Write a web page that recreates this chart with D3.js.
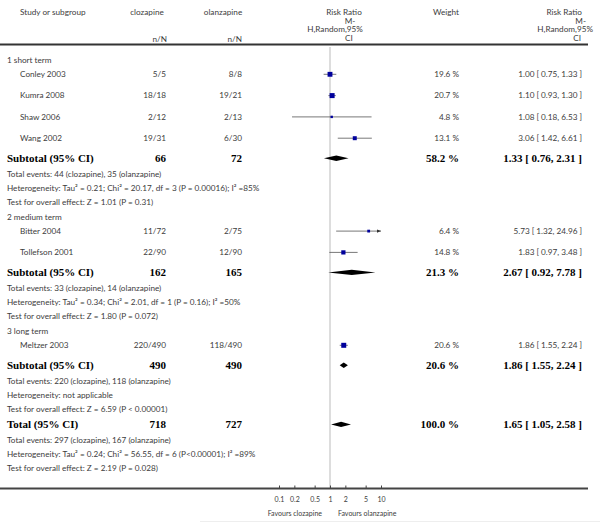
<!DOCTYPE html>
<html><head><meta charset="utf-8">
<script src="https://cdn.jsdelivr.net/npm/d3@7"></script>
<style>body{margin:0;background:#fff}svg{display:block}</style>
</head><body><div id="c"></div>
<script>
// ---- data ----
const groups = ["1 short term", "2 medium term", "3 long term"];
const studies = ["Conley 2003","Kumra 2008","Shaw 2006","Wang 2002","Bitter 2004","Tollefson 2001","Meltzer 2003"];
const studyGroup = [0,0,0,0,1,1,2];
const clozEvents = [5,18,2,19,11,22,220];
const clozTotal  = [5,18,12,31,72,90,490];
const olanEvents = [8,19,2,6,2,12,118];
const olanTotal  = [8,21,13,30,75,90,490];
const weights = [19.6,20.7,4.8,13.1,6.4,14.8,20.6];
const rr  = [1.00,1.10,1.08,3.06,5.73,1.83,1.86];
const rrLo = [0.75,0.93,0.18,1.42,1.32,0.97,1.55];
const rrHi = [1.33,1.30,6.53,6.61,24.96,3.48,2.24];
const subClozN = [66,162,490];
const subOlanN = [72,165,490];
const subWeight = [58.2,21.3,20.6];
const subRR = [1.33,2.67,1.86];
const subLo = [0.76,0.92,1.55];
const subHi = [2.31,7.78,2.24];
const subInfo = [
 ["Total events: 44 (clozapine), 35 (olanzapine)",
  "Heterogeneity: Tau² = 0.21; Chi² = 20.17, df = 3 (P = 0.00016); I² =85%",
  "Test for overall effect: Z = 1.01 (P = 0.31)"],
 ["Total events: 33 (clozapine), 14 (olanzapine)",
  "Heterogeneity: Tau² = 0.34; Chi² = 2.01, df = 1 (P = 0.16); I² =50%",
  "Test for overall effect: Z = 1.80 (P = 0.072)"],
 ["Total events: 220 (clozapine), 118 (olanzapine)",
  "Heterogeneity: not applicable",
  "Test for overall effect: Z = 6.59 (P < 0.00001)"]
];
const totalClozN = 718, totalOlanN = 727, totalWeight = 100.0;
const totalRR = 1.65, totalLo = 1.05, totalHi = 2.58;
const totalInfo = ["Total events: 297 (clozapine), 167 (olanzapine)",
  "Heterogeneity: Tau² = 0.24; Chi² = 56.55, df = 6 (P<0.00001); I² =89%",
  "Test for overall effect: Z = 2.19 (P = 0.028)"];
const tickValues = [0.1,0.2,0.5,1,2,5,10];
const tickLabels = ["0.1","0.2","0.5","1","2","5","10"];

// ---- layout ----
const W = 600, H = 522;
const svg = d3.select("#c").append("svg").attr("width",W).attr("height",H);
const SANS = "Lato, 'Open Sans', sans-serif";
const SERIF = "'Liberation Serif', 'DejaVu Serif', serif";
const TXT = "#3c3c3c";
const x = d3.scaleLog().domain([0.1,10]).range([279,381]);
const f2 = d3.format(".2f");

// build rows
const rows = [];
let y = 60, prev = null;
const step = {"group>study":14.3,"study>study":21.3,"study>sub":20,"sub>info":15.7,"info>info":14.2,"info>group":14.5,"info>total":15,"total>info":15.7};
function push(type, d){
  if(prev) y += step[prev+">"+type];
  rows.push(Object.assign({type, y}, d)); prev = type;
}
groups.forEach((g,gi)=>{
  push("group",{label:g});
  studies.forEach((s,i)=>{ if(studyGroup[i]===gi) push("study",{i}); });
  push("sub",{gi});
  subInfo[gi].forEach(t=>push("info",{label:t}));
});
push("total",{});
totalInfo.forEach(t=>push("info",{label:t}));
const axisY = y + 20;

// header
const hdr = svg.append("g").attr("font-family",SANS).attr("font-size",8.2).attr("fill",TXT);
function ht(tx,ty,t,anchor){hdr.append("text").attr("x",tx).attr("y",ty).attr("dy","0.35em").attr("text-anchor",anchor||"start").text(t);}
ht(20,12,"Study or subgroup");
ht(147,12,"clozapine","middle");
ht(223,12,"olanzapine","middle");
ht(167,39,"n/N","end");
ht(242,39,"n/N","end");
ht(344,12,"Risk Ratio","middle");
ht(350,21,"M-","middle");
ht(335,29.5,"H,Random,95%","middle");
ht(349,38.5,"CI","middle");
ht(446,12,"Weight","middle");
ht(582,12,"Risk Ratio","end");
ht(586,21,"M-","end");
ht(593,29.5,"H,Random,95%","end");
ht(581,38.5,"CI","end");

svg.append("line").attr("x1",0).attr("x2",588).attr("y1",44.5).attr("y2",44.5).attr("stroke","#333").attr("stroke-width",2);
// null line
svg.append("line").attr("x1",x(1)).attr("x2",x(1)).attr("y1",47).attr("y2",axisY).attr("stroke","#bbb").attr("stroke-width",1);

const g = svg.append("g");
function txt(tx,ty,t,opts){
  opts = opts||{};
  g.append("text").attr("x",tx).attr("y",ty).attr("dy","0.35em")
   .attr("text-anchor",opts.anchor||"start")
   .attr("font-family",opts.bold?SERIF:SANS)
   .attr("font-weight",opts.bold?"bold":"normal")
   .attr("font-size",opts.bold?11:8.2)
   .attr("fill",opts.bold?"#000":TXT).text(t);
}
function diamond(ry,est,lo,hi){
  const h = 2.7;
  g.append("path").attr("d",`M${x(lo)},${ry}L${x(est)},${ry-h}L${x(hi)},${ry}L${x(est)},${ry+h}Z`).attr("fill","#000");
}
rows.forEach(r=>{
  if(r.type==="group") txt(7,r.y,r.label);
  else if(r.type==="info") txt(7,r.y,r.label);
  else if(r.type==="study"){
    const i=r.i;
    txt(20,r.y,studies[i]);
    txt(166,r.y,clozEvents[i]+"/"+clozTotal[i],{anchor:"end"});
    txt(242,r.y,olanEvents[i]+"/"+olanTotal[i],{anchor:"end"});
    txt(459,r.y,weights[i].toFixed(1)+" %",{anchor:"end"});
    txt(582,r.y,`${f2(rr[i])} [ ${f2(rrLo[i])}, ${f2(rrHi[i])} ]`,{anchor:"end"});
    const [d0,d1]=x.domain();
    const lo=Math.max(rrLo[i],d0), hi=Math.min(rrHi[i],d1);
    g.append("line").attr("x1",x(lo)).attr("x2",x(hi)).attr("y1",r.y).attr("y2",r.y).attr("stroke","#555").attr("stroke-width",0.8);
    if(rrHi[i]>d1){
      const ax=x(d1);
      g.append("path").attr("d",`M${ax},${r.y}L${ax-4},${r.y-1.6}L${ax-4},${r.y+1.6}Z`).attr("fill","#333");
    }
    const s=Math.max(1.5,1.1*Math.sqrt(weights[i]));
    g.append("rect").attr("x",x(rr[i])-s/2).attr("y",r.y-s/2).attr("width",s).attr("height",s).attr("fill","#00009c");
  } else if(r.type==="sub"){
    const k=r.gi;
    txt(7,r.y,"Subtotal (95% CI)",{bold:true});
    txt(166,r.y,subClozN[k],{anchor:"end",bold:true});
    txt(242,r.y,subOlanN[k],{anchor:"end",bold:true});
    txt(459,r.y,subWeight[k].toFixed(1)+" %",{anchor:"end",bold:true});
    txt(582,r.y,`${f2(subRR[k])} [ ${f2(subLo[k])}, ${f2(subHi[k])} ]`,{anchor:"end",bold:true});
    diamond(r.y,subRR[k],subLo[k],subHi[k]);
  } else if(r.type==="total"){
    txt(7,r.y,"Total (95% CI)",{bold:true});
    txt(166,r.y,totalClozN,{anchor:"end",bold:true});
    txt(242,r.y,totalOlanN,{anchor:"end",bold:true});
    txt(459,r.y,totalWeight.toFixed(1)+" %",{anchor:"end",bold:true});
    txt(582,r.y,`${f2(totalRR)} [ ${f2(totalLo)}, ${f2(totalHi)} ]`,{anchor:"end",bold:true});
    diamond(r.y,totalRR,totalLo,totalHi);
  }
});

// axis
const axis = d3.axisBottom(x).tickValues(tickValues).tickFormat((d,i)=>tickLabels[i]).tickSizeInner(-3).tickSizeOuter(0).tickPadding(9);
const ag = svg.append("g").attr("transform",`translate(0,${axisY})`).call(axis);
ag.select(".domain").remove();
ag.selectAll(".tick line").attr("stroke","#444");
ag.selectAll(".tick text").attr("font-family",SANS).attr("font-size",7).attr("fill",TXT);
svg.append("line").attr("x1",0).attr("x2",588).attr("y1",axisY).attr("y2",axisY).attr("stroke","#444").attr("stroke-width",2);
svg.append("text").attr("x",322).attr("y",axisY+27).attr("text-anchor","end").attr("font-family",SANS).attr("font-size",7).attr("fill",TXT).text("Favours clozapine");
svg.append("text").attr("x",338).attr("y",axisY+27).attr("text-anchor","start").attr("font-family",SANS).attr("font-size",7).attr("fill",TXT).text("Favours olanzapine");
svg.append("line").attr("x1",200).attr("x2",600).attr("y1",521.5).attr("y2",521.5).attr("stroke","#eee");
</script></body></html>
